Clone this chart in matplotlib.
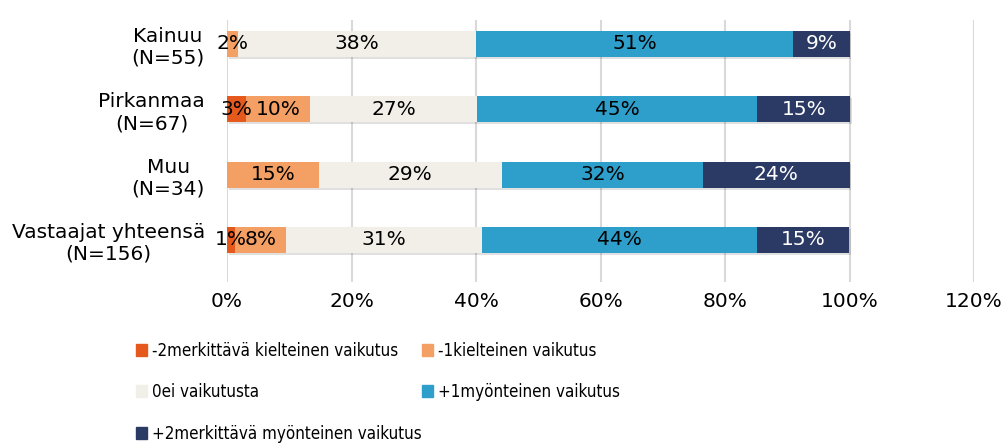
import matplotlib
matplotlib.use("Agg")
import matplotlib.pyplot as plt
import matplotlib.patheffects as pe
from matplotlib.patches import Patch
from matplotlib import font_manager

plt.rcParams['font.family'] = ['DejaVu Sans']

categories = ["Vastaajat yhteensä\n(N=156)", "Muu\n(N=34)", "Pirkanmaa\n(N=67)", "Kainuu\n(N=55)"]
series_names = ["-2merkittävä kielteinen vaikutus", "-1kielteinen vaikutus", "0ei vaikutusta",
                "+1myönteinen vaikutus", "+2merkittävä myönteinen vaikutus"]
colors = ["#E5591D", "#F4A064", "#F2EFE8", "#2E9ECB", "#2B3A64"]
text_colors = ["black", "black", "black", "black", "white"]

# percent shares, bottom category first
minus2 = [1.3, 0.0, 3.0, 0.0]
minus1 = [8.2, 14.7, 10.4, 1.8]
zero = [31.4, 29.4, 26.8, 38.2]
plus1 = [44.3, 32.4, 45.0, 51.0]
plus2 = [14.8, 23.5, 14.9, 9.0]
series = [minus2, minus1, zero, plus1, plus2]

FS = 14.5

# legend text is narrower in the reference
fonts = {(f.name, f.stretch) for f in font_manager.fontManager.ttflist}
if ("DejaVu Sans", "condensed") in fonts or ("DejaVu Sans", 500) in fonts:
    leg_font = dict(family="DejaVu Sans", stretch="condensed", size=12.15)
elif any(n == "Liberation Sans Narrow" for n, s in fonts):
    leg_font = dict(family="Liberation Sans Narrow", size=12.2)
else:
    leg_font = dict(family="DejaVu Sans", size=11)

fig = plt.figure(figsize=(10.06, 4.46), dpi=100)
ax = fig.add_axes([227 / 1006, 1 - 282 / 446, (974 - 227) / 1006, (282 - 20) / 446])

shadow = [pe.SimplePatchShadow(offset=(1.2, -1.5), shadow_rgbFace="#000000", alpha=0.12), pe.Normal()]
ypos = list(range(len(categories)))
left = [0.0] * len(categories)
for vals, col, tc in zip(series, colors, text_colors):
    bars = ax.barh(ypos, vals, left=left, height=0.4, color=col, zorder=3)
    for b in bars:
        b.set_path_effects(shadow)
    for y, v, l in zip(ypos, vals, left):
        if v > 0:
            ax.text(l + v / 2, y, f"{round(v):.0f}%", ha="center", va="center",
                    fontsize=FS, color=tc, zorder=4)
    left = [a + b for a, b in zip(left, vals)]

ax.set_xlim(0, 120)
ax.set_ylim(-0.643, 3.367)
ax.set_xticks(range(0, 121, 20))
ax.set_xticklabels([f"{t}%" for t in range(0, 121, 20)], fontsize=FS)
ax.set_yticks(ypos)
ax.set_yticklabels(categories, fontsize=FS, ha="right", multialignment="center")
ax.tick_params(axis="y", pad=16, length=0)
ax.tick_params(axis="x", length=0, pad=7)
ax.grid(axis="x", color="#d9d9d9", linewidth=1.5, zorder=0)
for s in ax.spines.values():
    s.set_visible(False)

leg_pos = [(136, 351), (422, 351), (136, 392), (422, 392), (136, 434)]
for name, col, (px, py) in zip(series_names, colors, leg_pos):
    fig.legend([Patch(color=col)], [name], loc="center left",
               bbox_to_anchor=(px / 1006, 1 - py / 446), frameon=False, prop=leg_font,
               handlelength=0.65, handleheight=0.65, handletextpad=0.3,
               borderaxespad=0, borderpad=0)

fig.savefig("out.png", dpi=100)
